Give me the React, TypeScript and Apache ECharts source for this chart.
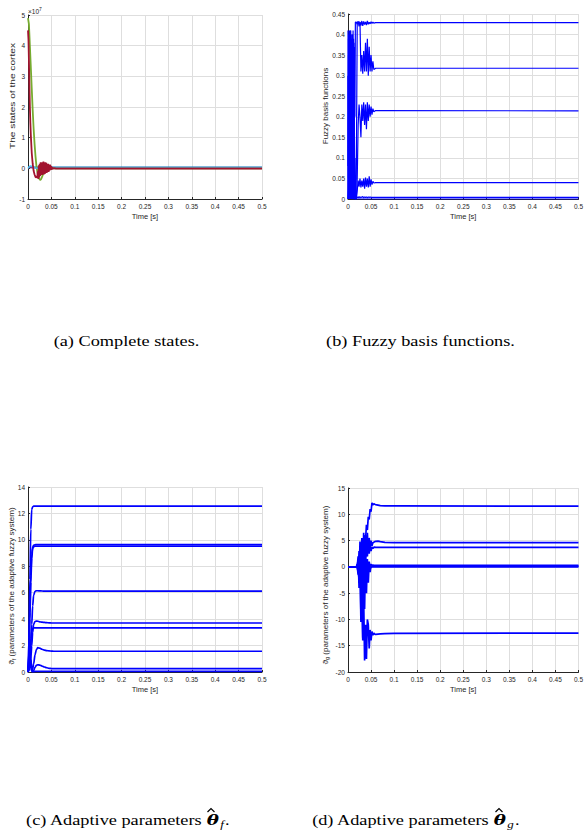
import React, { useEffect, useRef } from "react";
import * as echarts from "echarts";

// ---------- (a) Complete states (values in units of 1e7) ----------
const aGreenTime = [0, 0.002, 0.004, 0.006, 0.008, 0.010, 0.012, 0.014, 0.016, 0.018, 0.020, 0.022, 0.024, 0.026, 0.028, 0.030, 0.032, 0.034, 0.036, 0.038, 0.040, 0.043, 0.046, 0.050, 0.055, 0.060, 0.5];
const aGreen = [4.9, 4.7, 4.0, 3.3, 2.6, 1.9, 1.3, 0.8, 0.4, 0.08, -0.12, -0.25, -0.34, -0.38, -0.35, -0.28, -0.2, -0.12, -0.05, 0.02, 0.04, 0.01, -0.02, 0.0, 0.01, 0.0, 0.0];
const aRedTime = [0, 0.001, 0.002, 0.003, 0.004, 0.005, 0.006, 0.007, 0.008, 0.010, 0.012, 0.014, 0.016, 0.018, 0.020,
  0.021, 0.022, 0.023, 0.024, 0.025, 0.026, 0.027, 0.028, 0.029, 0.030, 0.031, 0.032, 0.033, 0.034, 0.035, 0.036, 0.037, 0.038,
  0.039, 0.040, 0.041, 0.042, 0.043, 0.044, 0.045, 0.046, 0.047, 0.048, 0.049, 0.050, 0.051, 0.052, 0.053, 0.054, 0.055, 0.056, 0.060, 0.5];
const aRed = [4.5, 4.2, 3.5, 2.7, 2.0, 1.5, 1.1, 0.8, 0.5, 0.15, -0.08, -0.2, -0.28, -0.3, -0.25,
  -0.1, -0.35, 0.1, -0.3, 0.15, -0.25, 0.2, -0.2, 0.18, -0.22, 0.2, -0.15, 0.22, -0.2, 0.15, -0.18, 0.2, -0.1,
  0.18, -0.15, 0.12, -0.1, 0.15, -0.12, 0.1, -0.08, 0.12, -0.05, 0.08, -0.05, 0.05, -0.03, 0.02, -0.02, 0.01, 0.0, -0.01, -0.01];
const aLightBlueTime = [0, 0.003, 0.006, 0.010, 0.014, 0.020, 0.5];
const aLightBlue = [0, 0.06, 0.08, 0.05, 0.02, 0.0, 0.0];
const aBlueTime = [0, 0.5];
const aBlue = [0.035, 0.035];
const aPurple = [0.02, 0.02];

// ---------- (b) Fuzzy basis functions ----------
const bTime = [0, 0.001, 0.002, 0.003, 0.004, 0.005, 0.006, 0.007, 0.008, 0.009, 0.010, 0.011, 0.012, 0.013, 0.014, 0.015, 0.016,
  0.018, 0.020, 0.022, 0.024, 0.026, 0.028, 0.030, 0.032, 0.034, 0.036, 0.038, 0.040, 0.042, 0.044, 0.046, 0.048, 0.050, 0.052, 0.054, 0.056,
  0.060, 0.5];
const b1 = [0.41, 0.05, 0.40, 0.10, 0.39, 0.02, 0.41, 0.15, 0.38, 0.00, 0.40, 0.08, 0.39, 0.03, 0.37, 0.20, 0.43,
  0.43, 0.425, 0.432, 0.42, 0.43, 0.422, 0.433, 0.421, 0.432, 0.424, 0.431, 0.423, 0.433, 0.425, 0.43, 0.426, 0.431, 0.427, 0.43, 0.428,
  0.429, 0.429];
const b2 = [0.08, 0.39, 0.00, 0.41, 0.05, 0.38, 0.12, 0.40, 0.02, 0.39, 0.10, 0.41, 0.00, 0.36, 0.05, 0.10, 0.00,
  0.05, 0.43, 0.43, 0.43, 0.43, 0.31, 0.35, 0.305, 0.36, 0.31, 0.38, 0.31, 0.39, 0.30, 0.37, 0.31, 0.35, 0.31, 0.335, 0.315,
  0.318, 0.318];
const b3 = [0.00, 0.35, 0.05, 0.38, 0.00, 0.41, 0.03, 0.36, 0.10, 0.40, 0.00, 0.33, 0.06, 0.38, 0.02, 0.00, 0.00,
  0.00, 0.05, 0.18, 0.23, 0.20, 0.15, 0.23, 0.19, 0.235, 0.18, 0.23, 0.17, 0.235, 0.19, 0.23, 0.20, 0.225, 0.205, 0.22, 0.212,
  0.215, 0.2145];
const b4 = [0.30, 0.00, 0.35, 0.02, 0.40, 0.00, 0.30, 0.00, 0.38, 0.05, 0.32, 0.00, 0.28, 0.00, 0.15, 0.00, 0.00,
  0.00, 0.02, 0.045, 0.030, 0.050, 0.028, 0.045, 0.030, 0.050, 0.025, 0.052, 0.030, 0.050, 0.028, 0.055, 0.030, 0.048, 0.035, 0.043, 0.039,
  0.04, 0.04];
const b5 = [0.00, 0.20, 0.00, 0.30, 0.01, 0.25, 0.00, 0.35, 0.00, 0.20, 0.00, 0.30, 0.00, 0.10, 0.00, 0.02, 0.00,
  0.002, 0.005, 0.003, 0.006, 0.003, 0.005, 0.004, 0.006, 0.003, 0.005, 0.004, 0.005, 0.003, 0.005, 0.004, 0.005, 0.004, 0.004, 0.004, 0.004,
  0.004, 0.004];
const b6 = [0.00, 0.02, 0.00, 0.05, 0.01, 0.03, 0.00, 0.01, 0.00, 0.00, 0.00, 0.00, 0.00, 0.00, 0.00, 0.00, 0.00,
  0.00, 0.00, 0.00, 0.00, 0.00, 0.00, 0.00, 0.00, 0.00, 0.00, 0.00, 0.00, 0.00, 0.00, 0.00, 0.00, 0.00, 0.00, 0.00, 0.00,
  0.00, 0.00];

// ---------- (c) Adaptive parameters theta_f ----------
const cTime = [0, 0.002, 0.004, 0.006, 0.008, 0.010, 0.012, 0.015, 0.018, 0.021, 0.025, 0.030, 0.035, 0.040, 0.045, 0.050, 0.055, 0.060, 0.5];
const c1 = [0, 2.5, 7.0, 10.8, 12.3, 12.5, 12.55, 12.55, 12.55, 12.55, 12.55, 12.55, 12.55, 12.55, 12.55, 12.55, 12.55, 12.55, 12.55];
const c2 = [0, 1.5, 4.5, 7.3, 8.9, 9.45, 9.58, 9.63, 9.65, 9.65, 9.65, 9.65, 9.65, 9.65, 9.65, 9.65, 9.65, 9.65, 9.65];
const c3 = [0, 1.2, 4.0, 6.8, 8.6, 9.35, 9.48, 9.52, 9.53, 9.53, 9.53, 9.53, 9.53, 9.53, 9.53, 9.53, 9.53, 9.53, 9.53];
const c4 = [0, 0.2, 0.8, 2.0, 3.6, 5.0, 5.8, 6.1, 6.15, 6.15, 6.14, 6.13, 6.12, 6.12, 6.12, 6.12, 6.12, 6.12, 6.12];
const c5 = [0, 0.1, 0.4, 1.0, 2.0, 3.0, 3.6, 3.82, 3.85, 3.84, 3.8, 3.77, 3.75, 3.73, 3.72, 3.71, 3.71, 3.71, 3.71];
const c6 = [0, 0.5, 1.5, 2.5, 3.1, 3.3, 3.34, 3.34, 3.34, 3.34, 3.34, 3.34, 3.34, 3.34, 3.34, 3.34, 3.34, 3.34, 3.34];
const c7 = [0, 0.6, 1.4, 0.9, 0.3, 0.2, 0.6, 1.3, 1.7, 1.84, 1.8, 1.72, 1.66, 1.62, 1.6, 1.58, 1.57, 1.57, 1.57];
const c8 = [0, 0.8, 1.6, 1.0, 0.3, 0.05, 0.1, 0.35, 0.5, 0.55, 0.52, 0.45, 0.38, 0.32, 0.28, 0.26, 0.25, 0.25, 0.25];
const c9 = [0, 0.3, 0.6, 0.3, 0.05, 0.0, 0.02, 0.04, 0.05, 0.05, 0.05, 0.05, 0.05, 0.05, 0.05, 0.05, 0.05, 0.05, 0.05];

// ---------- (d) Adaptive parameters theta_g ----------
const dTime = [0, 0.018, 0.020, 0.022, 0.024, 0.026, 0.028, 0.030, 0.032, 0.034, 0.036, 0.038, 0.040, 0.042, 0.044, 0.046, 0.048, 0.050,
  0.052, 0.054, 0.056, 0.058, 0.060, 0.065, 0.070, 0.080, 0.100, 0.5];
const d1 = [0, 0, 0.5, -1, 2, -2, 4, -1, 5, 2, 6, 5, 8, 7, 9.5, 9, 11, 10.5, 12.2, 11.8, 12.0, 11.9, 11.85, 11.75, 11.65, 11.6, 11.6, 11.55];
const d2 = [0, 0, 0, 1.5, -3, 4.8, -4.5, 5.5, -2, 6.5, 0, 6, 2, 6.5, 3, 5.5, 3.5, 5, 4, 4.6, 4.7, 4.8, 4.85, 4.9, 4.8, 4.65, 4.6, 4.6];
const d3 = [0, 0, 0, -1.5, 3, -4, 4.5, -5, 5, -1, 4, 1, 5.5, 2, 4.5, 2.5, 4, 3, 3.8, 3.5, 3.7, 3.75, 3.72, 3.7, 3.7, 3.7, 3.7, 3.7];
const d4 = [0, 0, 0, 1, -2, 2.5, -3, 3, -2, 2, -1.5, 1.5, -1, 1, -0.5, 0.8, 0, 0.5, 0.2, 0.35, 0.3, 0.3, 0.3, 0.3, 0.3, 0.3, 0.3, 0.3];
const d5 = [0, 0, 0, -1, 1.5, -2, 2, -2.5, 1.5, -2, 1, -1.5, 1, -0.8, 0.5, -0.4, 0.3, -0.2, 0.1, 0, 0, 0, 0, 0, 0, 0, 0, 0];
const d6 = [0, 0, 0, 1, -3, 2, -9, -4, -14, -6, -17.8, -11, -17.5, -10, -11, -15.5, -12, -14, -12.3, -13, -12.6, -12.8, -12.85, -12.8, -12.75, -12.7, -12.65, -12.6];
const d7 = [0, 0, 0, 2, -4, 1, -10.5, 3, -13.5, 1, -8, 2, -5, 1.5, -3, 1, -1, 0.5, 0, 0.2, 0.15, 0.15, 0.15, 0.15, 0.15, 0.15, 0.15, 0.15];

// ---------- axes & texts ----------
const xRange = { min: 0, max: 0.5, interval: 0.05 };
const yRanges = [
  { min: -1, max: 5, interval: 1 },
  { min: 0, max: 0.45, interval: 0.05 },
  { min: 0, max: 14, interval: 2 },
  { min: -20, max: 15, interval: 5 },
];
const xName = "Time [s]";
const yNames = ["The states of the cortex", "Fuzzy basis functions"];
const captions = ["(a) Complete states.", "(b) Fuzzy basis functions."];

const FONT = "Liberation Sans, Arial, Helvetica, sans-serif";
const SERIF = "Liberation Serif, Times New Roman, serif";
const AX = "#262626";
const GRIDC = "#dedede";
const BLUE = "#0000ff";

const fmt = (v: number) => String(Math.round(v * 1000) / 1000);

const grids = [
  { left: 28, top: 15, width: 234, height: 184 },
  { left: 348, top: 14, width: 234, height: 185 },
  { left: 28, top: 487, width: 234, height: 185 },
  { left: 348, top: 488, width: 234, height: 184 },
];

function line(t: number[], v: number[], color: string, width: number, gi: number, smooth: number | boolean = false) {
  return {
    type: "line",
    xAxisIndex: gi,
    yAxisIndex: gi,
    data: t.map((x, i) => [x, v[i]]),
    symbol: "none",
    showSymbol: false,
    smooth,
    smoothMonotone: "x",
    lineStyle: { color, width },
    itemStyle: { color },
    silent: true,
    z: 3,
  };
}

export default function App() {
  const ref = useRef<HTMLDivElement>(null);
  useEffect(() => {
    if (!ref.current) return;
    const chart = echarts.init(ref.current, null, { renderer: "svg" });

    const xAxes = grids.map((_, i) => ({
      type: "value",
      gridIndex: i,
      ...xRange,
      name: xName,
      nameLocation: "middle",
      nameGap: 13,
      nameTextStyle: { fontSize: 7.5, color: AX, fontFamily: FONT },
      axisLine: { show: true, onZero: false, lineStyle: { color: AX, width: 1 } },
      axisTick: { show: true, inside: true, length: 2, lineStyle: { color: AX } },
      axisLabel: { fontSize: 6.5, color: AX, margin: 4, fontFamily: FONT, formatter: fmt },
      splitLine: { show: true, lineStyle: { color: GRIDC, width: 1 } },
    }));
    const yAxes = grids.map((_, i) => ({
      type: "value",
      gridIndex: i,
      ...yRanges[i],
      axisLine: { show: true, onZero: false, lineStyle: { color: AX, width: 1 } },
      axisTick: { show: true, inside: true, length: 2, lineStyle: { color: AX } },
      axisLabel: { fontSize: 6.5, color: AX, margin: 3, fontFamily: FONT, formatter: fmt },
      splitLine: { show: true, lineStyle: { color: GRIDC, width: 1 } },
    }));

    const series: any[] = [
      line(aBlueTime, aBlue, "#0072BD", 1.3, 0),
      line(aBlueTime, aPurple, "#7E2F8E", 1.3, 0),
      line(aGreenTime, aGreen, "#77AC30", 1.8, 0),
      line(aLightBlueTime, aLightBlue, "#4DBEEE", 1.5, 0),
      line(aRedTime, aRed, "#A2142F", 1.8, 0),
      ...[b1, b2, b3, b4, b5, b6].map((v) => line(bTime, v, BLUE, 1.2, 1)),
      ...[c1, c2, c3, c4, c5, c6, c7, c8, c9].map((v) => line(cTime, v, BLUE, 1.7, 2, 0.3)),
      ...[d1, d2, d3, d4, d5, d6, d7].map((v) => line(dTime, v, BLUE, 1.7, 3)),
    ];

    const yLabel = (x: number, y: number, text: string, stretch: number) => ({
      type: "text",
      x,
      y,
      rotation: Math.PI / 2,
      scaleX: stretch,
      style: { text, fontSize: 8, fontFamily: FONT, fill: AX, align: "center", verticalAlign: "middle" },
    });
    const thetaLabel = (x: number, y: number, sub: string) => ({
      type: "text",
      x,
      y,
      rotation: Math.PI / 2,
      style: {
        text: "{t|ϑ}{s|" + sub + "} (parameters of the adaptive fuzzy system)",
        fontSize: 8,
        fontFamily: FONT,
        fill: AX,
        align: "center",
        verticalAlign: "middle",
        rich: {
          t: { fontSize: 8, fontFamily: FONT, fill: AX },
          s: { fontSize: 5.5, fontFamily: FONT, fill: AX, verticalAlign: "bottom", padding: [4, 0, 0, 0] },
        },
      },
    });
    const caption = (x: number, y: number, text: string) => ({
      type: "text",
      x,
      y,
      scaleX: 1.18,
      style: { text, fontSize: 15.5, fontFamily: SERIF, fill: "#000", align: "center", verticalAlign: "middle" },
    });
    const thetaCaption = (x: number, y: number, label: string, sub: string) => ({
      type: "text",
      x,
      y,
      scaleX: 1.18,
      style: {
        text: label + " Adaptive parameters {th|\u03B8}{sb|" + sub + "}.",
        fontSize: 15.5,
        fontFamily: SERIF,
        fill: "#000",
        align: "center",
        verticalAlign: "middle",
        rich: {
          th: { fontSize: 15.5, fontFamily: "DejaVu Serif, serif", fontWeight: "bold", fontStyle: "italic", fill: "#000" },
          sb: { fontSize: 11, fontFamily: SERIF, fontStyle: "italic", fill: "#000", padding: [8, 1, 0, 1] },
        },
      },
    });
    const hat = (cx: number, y: number) => ({
      type: "polyline",
      shape: { points: [[cx - 3.5, y + 3.5], [cx, y], [cx + 3.5, y + 3.5]] },
      style: { stroke: "#000", lineWidth: 1.2, fill: "none" },
    });

    const graphic: any[] = [
      yLabel(12, 96, yNames[0], 1.27),
      yLabel(325, 106, yNames[1], 1.0),
      thetaLabel(11.5, 586, "f"),
      thetaLabel(325, 585, "g"),
      {
        type: "text",
        x: 28,
        y: 11,
        style: {
          text: "×10{s|7}",
          fontSize: 6.5,
          fontFamily: FONT,
          fill: AX,
          align: "left",
          verticalAlign: "middle",
          rich: { s: { fontSize: 5, fontFamily: FONT, fill: AX, padding: [0, 0, 5, 0] } },
        },
      },
      caption(126.5, 341, captions[0]),
      caption(420.5, 341, captions[1]),
      thetaCaption(127.5, 820, "(c)", "f"),
      thetaCaption(415.5, 820, "(d)", "g"),
      hat(211, 808.5),
      hat(499, 808.5),
    ];

    chart.setOption({
      animation: false,
      backgroundColor: "#ffffff",
      grid: grids.map((g) => ({ ...g, containLabel: false })),
      xAxis: xAxes,
      yAxis: yAxes,
      series,
      graphic,
    });
    return () => chart.dispose();
  }, []);

  return <div ref={ref} style={{ position: "absolute", left: 0, top: 0, width: 586, height: 832 }} />;
}
